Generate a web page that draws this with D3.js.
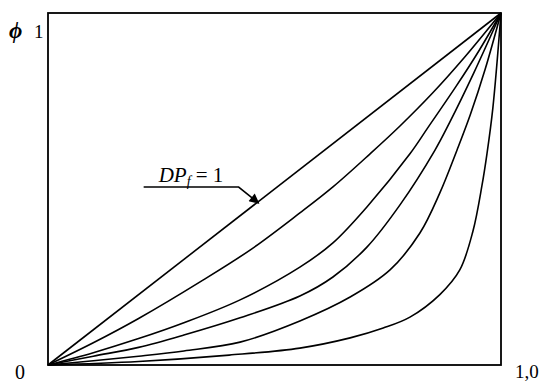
<!DOCTYPE html>
<html>
<head>
<meta charset="utf-8">
<script src="https://cdn.jsdelivr.net/npm/d3@7"></script>
<style>
  html, body { margin: 0; padding: 0; background: #fff; }
  svg { display: block; }
  text { font-family: "Liberation Serif", "Times New Roman", serif; fill: #000; }
</style>
</head>
<body>
<svg id="chart" width="548" height="383"></svg>
<script>
// Relative position along the bed (x) and fraction phi (y) for each curve
const curveNames = ["DPf=1", "c2", "c3", "c4", "c5", "c6"];

const xDiag = [0, 1];
const yDiag = [0, 1];

const xC2 = [0, 0.1, 0.2, 0.342, 0.45, 0.556, 0.629, 0.711, 0.777, 0.85, 0.92, 1];
const yC2 = [0, 0.063, 0.132, 0.241, 0.33, 0.432, 0.506, 0.6, 0.679, 0.774, 0.875, 1];

const xC3 = [0, 0.1, 0.2, 0.3, 0.424, 0.556, 0.629, 0.704, 0.799, 0.839, 0.9, 0.95, 1];
const yC3 = [0, 0.035, 0.075, 0.12, 0.185, 0.278, 0.347, 0.449, 0.6, 0.675, 0.79, 0.89, 1];

const xC4 = [0, 0.1, 0.2, 0.3, 0.424, 0.556, 0.629, 0.704, 0.777, 0.854, 0.887, 0.94, 1];
const yC4 = [0, 0.025, 0.05, 0.085, 0.134, 0.196, 0.25, 0.335, 0.455, 0.61, 0.69, 0.83, 1];

const xC5 = [0, 0.1, 0.2, 0.3, 0.424, 0.556, 0.667, 0.755, 0.821, 0.865, 0.903, 0.932, 0.965, 1];
const yC5 = [0, 0.012, 0.025, 0.04, 0.065, 0.125, 0.193, 0.27, 0.375, 0.489, 0.611, 0.71, 0.84, 1];

const xC6 = [0, 0.2, 0.4, 0.556, 0.667, 0.74, 0.799, 0.865, 0.909, 0.938, 0.958, 0.969, 0.982, 1];
const yC6 = [0, 0.01, 0.028, 0.048, 0.077, 0.105, 0.136, 0.2, 0.27, 0.38, 0.51, 0.6, 0.73, 1];

const seriesX = [xDiag, xC2, xC3, xC4, xC5, xC6];
const seriesY = [yDiag, yC2, yC3, yC4, yC5, yC6];

// Corner labels
const xTickLabels = ["0", "1,0"];
const yTickLabel = "1";
const yAxisSymbol = "ϕ";

// Annotation anchor on the straight line
const labelPoint = [0.465, 0.46];

const svg = d3.select("#chart");
const plot = { left: 48, right: 501, top: 13, bottom: 365 };

const x = d3.scaleLinear().domain([0, 1]).range([plot.left, plot.right]);
const y = d3.scaleLinear().domain([0, 1]).range([plot.bottom, plot.top]);

// Frame
svg.append("rect")
  .attr("x", x(0)).attr("y", y(1))
  .attr("width", x(1) - x(0)).attr("height", y(0) - y(1))
  .attr("fill", "none").attr("stroke", "#000").attr("stroke-width", 1.8);

// Curves
const line = d3.line()
  .x(d => x(d[0])).y(d => y(d[1]))
  .curve(d3.curveCatmullRom.alpha(0.5));

seriesX.forEach((xs, i) => {
  const pts = xs.map((v, j) => [v, seriesY[i][j]]);
  svg.append("path")
    .datum(pts)
    .attr("class", "curve " + curveNames[i])
    .attr("d", line)
    .attr("fill", "none")
    .attr("stroke", "#000")
    .attr("stroke-width", 1.6)
    .attr("stroke-linejoin", "round");
});

// Corner labels
svg.append("text").attr("x", x(0) - 33).attr("y", y(0) + 14)
  .attr("font-size", 20).text(xTickLabels[0]);
svg.append("text").attr("x", x(1) + 14).attr("y", y(0) + 13)
  .attr("font-size", 19).text(xTickLabels[1]);
svg.append("text").attr("x", x(0) - 39).attr("y", y(1) + 25)
  .attr("font-size", 23).attr("font-style", "italic").attr("font-weight", "bold").text(yAxisSymbol);
svg.append("text").attr("x", x(0) - 14).attr("y", y(1) + 25)
  .attr("font-size", 19).text(yTickLabel);

// DP_f = 1 annotation
const tip = [x(labelPoint[0]), y(labelPoint[1])];
const elbow = [tip[0] - 20, tip[1] - 16];
const lineStart = elbow[0] - 95;

svg.append("defs").append("marker")
  .attr("id", "arrow").attr("viewBox", "0 0 10 10")
  .attr("refX", 9).attr("refY", 5)
  .attr("markerWidth", 13).attr("markerHeight", 10)
  .attr("markerUnits", "userSpaceOnUse")
  .attr("orient", "auto")
  .append("path").attr("d", "M0,0 L10,5 L0,10 Z").attr("fill", "#000");

svg.append("path")
  .attr("d", `M${lineStart},${elbow[1]} L${elbow[0]},${elbow[1]} L${tip[0]},${tip[1]}`)
  .attr("fill", "none").attr("stroke", "#000").attr("stroke-width", 1.5)
  .attr("marker-end", "url(#arrow)");

const lab = svg.append("text")
  .attr("x", elbow[0] - 80).attr("y", elbow[1] - 5)
  .attr("font-size", 21);
lab.append("tspan").attr("font-style", "italic").text("DP");
lab.append("tspan").attr("font-style", "italic").attr("font-size", 14).attr("dy", 4).text("f");
lab.append("tspan").attr("dy", -4).text(" = 1");
</script>
</body>
</html>
